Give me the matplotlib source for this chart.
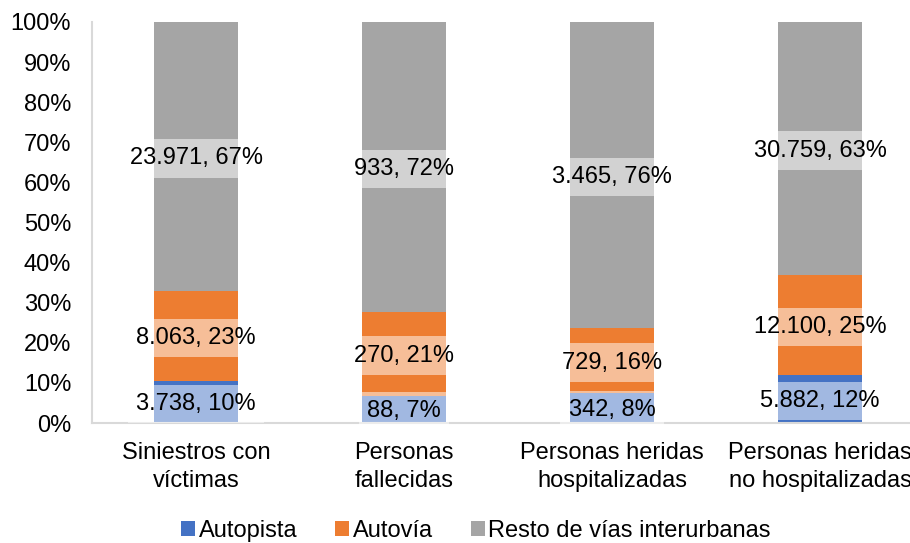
import matplotlib.pyplot as plt
import numpy as np

plt.rcParams['font.family'] = ['Liberation Sans', 'DejaVu Sans']

categorias = ["Siniestros con\nvíctimas", "Personas\nfallecidas",
              "Personas heridas\nhospitalizadas", "Personas heridas\nno hospitalizadas"]
autopista = [3738, 88, 342, 5882]
autovia = [8063, 270, 729, 12100]
resto = [23971, 933, 3465, 30759]
series = ["Autopista", "Autovía", "Resto de vías interurbanas"]
colores = ["#4472C4", "#ED7D31", "#A5A5A5"]


def fmt(v):
    return f"{v:,}".replace(",", ".")


fig = plt.figure(figsize=(9.1, 5.43), dpi=100)
ax = fig.add_axes([92 / 910, 120 / 543, 832 / 910, 401 / 543])

datos = np.array([autopista, autovia, resto], dtype=float)
totales = datos.sum(axis=0)
pct = datos / totales * 100
x = np.arange(len(categorias))
base = np.zeros(len(categorias))

for i, nombre in enumerate(series):
    ax.bar(x, pct[i], 0.4, bottom=base, color=colores[i], label=nombre, zorder=2)
    for j in range(len(categorias)):
        ax.text(x[j], base[j] + pct[i][j] / 2 - 0.5,
                f"{fmt(int(datos[i][j]))}, {pct[i][j]:.0f}%",
                ha='center', va='center', fontsize=17, zorder=3,
                bbox=dict(facecolor='white', alpha=0.5, edgecolor='none', pad=6))
    base += pct[i]

ax.set_xlim(-0.5, 3.5)
ax.set_ylim(0, 100)
ax.set_yticks(range(0, 101, 10))
ax.set_yticklabels([f"{t}%" for t in range(0, 101, 10)], fontsize=17)
ax.set_xticks(x)
ax.set_xticklabels(categorias, fontsize=17, linespacing=1.3)
ax.tick_params(length=0)
ax.tick_params(axis='x', pad=14)
ax.tick_params(axis='y', pad=15)
for s in ['top', 'right']:
    ax.spines[s].set_visible(False)
for s in ['left', 'bottom']:
    ax.spines[s].set_color('#D9D9D9')
    ax.spines[s].set_linewidth(1.5)

fig.legend(loc='center', bbox_to_anchor=(476 / 910, 12 / 543), ncol=3, frameon=False,
           fontsize=17, handlelength=0.6, handleheight=0.6, handletextpad=0.15,
           columnspacing=1.6, borderpad=0)

fig.savefig("out.png", dpi=100)
